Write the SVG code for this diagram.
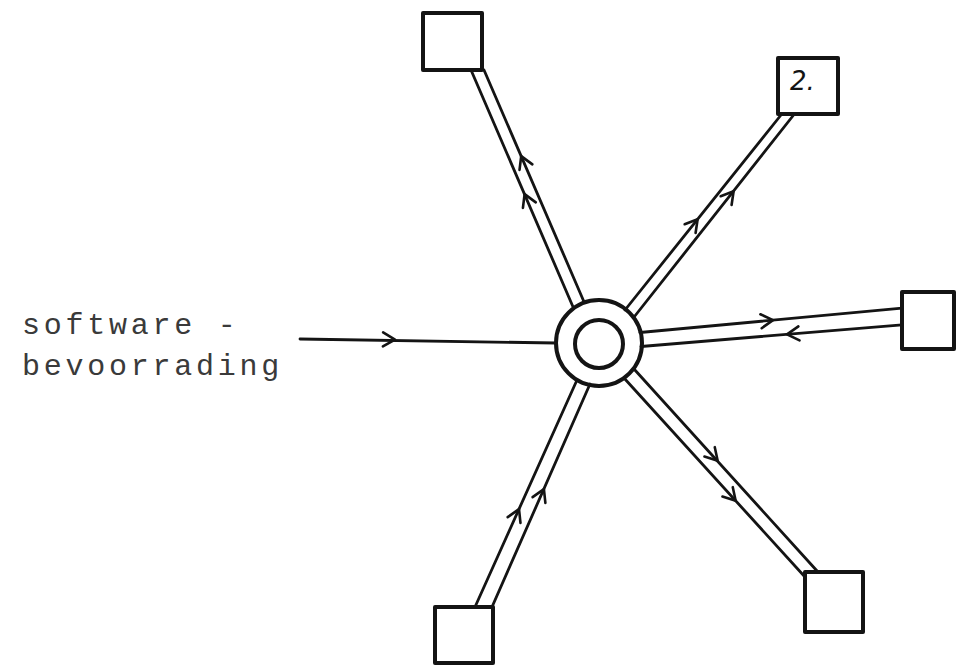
<svg xmlns="http://www.w3.org/2000/svg" xmlns:xlink="http://www.w3.org/1999/xlink" width="956" height="668" viewBox="0 0 956 668">
  <style>
    .box { fill: #ffffff; stroke: #141414; stroke-width: 4; stroke-linejoin: round; }
    .ring { fill: none; stroke: #141414; stroke-width: 4; }
    .pipe { fill: none; stroke: #141414; stroke-width: 2.8; stroke-linecap: round; }
    .chev { fill: none; stroke: #141414; stroke-width: 2.6; stroke-linejoin: round; stroke-linecap: round; }
    .label { font-family: "Liberation Mono", "Courier New", monospace; font-size: 30px; fill: #3a3a3a; letter-spacing: 3.75px; }
    .hand { font-family: "DejaVu Sans", sans-serif; font-style: italic; font-size: 26px; fill: #141414; }
  </style>
  <defs>
    <path id="chev" class="chev" d="M-11,-7 L1,0 L-11,7"/>
  </defs>
  <rect x="0" y="0" width="956" height="668" fill="#ffffff"/>

  <g id="connectors">
    <!-- input line -->
    <line class="pipe" x1="300" y1="339" x2="556" y2="343"/>
    <use xlink:href="#chev" transform="translate(394,339.5) rotate(0.9)"/>
    <!-- pipe 1 (top-left) -->
    <line class="pipe" x1="573.5" y1="308" x2="471" y2="70"/>
    <line class="pipe" x1="584.3" y1="302.5" x2="484" y2="70"/>
    <use xlink:href="#chev" transform="translate(521.6,157) rotate(-113.3)"/>
    <use xlink:href="#chev" transform="translate(525,195) rotate(-113.3)"/>
    <!-- pipe 2 (top-right) -->
    <line class="pipe" x1="625" y1="310" x2="781.8" y2="114"/>
    <line class="pipe" x1="633.3" y1="318" x2="794.4" y2="114"/>
    <use xlink:href="#chev" transform="translate(697,220) rotate(-51.3)"/>
    <use xlink:href="#chev" transform="translate(733,192) rotate(-51.3)"/>
    <!-- pipe 3 (right) -->
    <line class="pipe" x1="640" y1="332.5" x2="902" y2="308.2"/>
    <line class="pipe" x1="641" y1="346.5" x2="902" y2="324.8"/>
    <use xlink:href="#chev" transform="translate(772,320.2) rotate(-5.3)"/>
    <use xlink:href="#chev" transform="translate(788,334.3) rotate(175.3)"/>
    <!-- pipe 4 (bottom-left) -->
    <line class="pipe" x1="577" y1="380" x2="475" y2="607"/>
    <line class="pipe" x1="590" y1="384" x2="492" y2="607"/>
    <use xlink:href="#chev" transform="translate(518.6,510) rotate(-65.8)"/>
    <use xlink:href="#chev" transform="translate(543.5,490) rotate(-65.8)"/>
    <!-- pipe 5 (bottom-right) -->
    <line class="pipe" x1="624" y1="378" x2="805" y2="577"/>
    <line class="pipe" x1="634" y1="369" x2="818" y2="572"/>
    <use xlink:href="#chev" transform="translate(717,460) rotate(47.7)"/>
    <use xlink:href="#chev" transform="translate(735,500) rotate(47.7)"/>
  </g>

  <g id="hub">
    <circle class="ring" cx="599" cy="343" r="43"/>
    <circle class="ring" cx="599" cy="344" r="24"/>
  </g>

  <g id="node1">
    <rect class="box" x="423" y="13" width="59" height="57"/>
  </g>
  <g id="node2">
    <rect class="box" x="778" y="58" width="60" height="56"/>
    <text class="hand" x="790" y="90">2.</text>
  </g>
  <g id="node3">
    <rect class="box" x="902" y="292" width="52" height="57"/>
  </g>
  <g id="node4">
    <rect class="box" x="435" y="607" width="58" height="56"/>
  </g>
  <g id="node5">
    <rect class="box" x="805" y="572" width="58" height="60"/>
  </g>

  <g id="source">
    <text class="label" x="22" y="334">software -</text>
    <text class="label" x="22" y="375">bevoorrading</text>
  </g>
</svg>
